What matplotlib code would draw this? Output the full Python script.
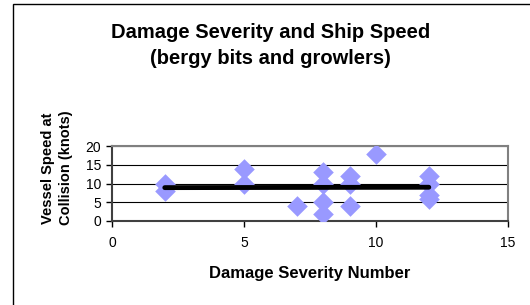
import matplotlib
matplotlib.use("Agg")
import matplotlib.pyplot as plt
from matplotlib.patches import Rectangle

plt.rcParams['font.family'] = ['Liberation Sans', 'DejaVu Sans']

# data
severity = [2, 2, 5, 5, 7, 8, 8, 8, 8, 9, 9, 9, 10, 12, 12, 12, 12]
speed = [10, 8, 14, 10, 4, 13, 10, 5, 2, 12, 10, 4, 18, 12, 10, 7, 6]
trend_x = [2, 12]
trend_y = [8.9, 9.0]
x_ticks = [0, 5, 10, 15]
y_ticks = [0, 5, 10, 15, 20]

fig = plt.figure(figsize=(5.30, 3.05), dpi=100)

# outer chart border
fig.patches.append(Rectangle((13 / 530, -0.01), 1.0, 1 - 4 / 305 + 0.01,
                             transform=fig.transFigure, fill=False,
                             edgecolor='black', linewidth=1.0))

ax = fig.add_axes([112 / 530, 1 - 221 / 305, 396 / 530, 75 / 305])

ax.scatter(severity, speed, marker='D', s=110, color='#9999ff', zorder=3, linewidths=0)
ax.plot(trend_x, trend_y, color='black', linewidth=3.5, zorder=4, solid_capstyle='round')

ax.set_xlim(0, 15)
ax.set_ylim(0, 20)
ax.set_xticks(x_ticks)
ax.set_yticks(y_ticks)
ax.yaxis.grid(True, color='black', linewidth=0.8)
ax.set_axisbelow(True)

for side in ['top', 'right']:
    ax.spines[side].set_color('#808080')
    ax.spines[side].set_linewidth(1.5)
for side in ['left', 'bottom']:
    ax.spines[side].set_color('#404040')
    ax.spines[side].set_linewidth(1.5)

ax.tick_params(direction='out', length=4, width=1, labelsize=10, pad=4)
ax.tick_params(axis='x', pad=7)

ax.set_xlabel('Damage Severity Number', fontsize=12, fontweight='bold', labelpad=11)
ax.set_ylabel('Vessel Speed at\nCollision (knots)', fontsize=10.5, fontweight='bold',
              va='center', linespacing=1.4)
# label sits higher than the plot centre in the original
ax.yaxis.set_label_coords((57 - 112) / 396, (221 - 168) / 75)

fig.text(0.51, 1 - 32 / 305, 'Damage Severity and Ship Speed',
         ha='center', va='center', fontsize=14.5, fontweight='bold')
fig.text(0.51, 1 - 59 / 305, '(bergy bits and growlers)',
         ha='center', va='center', fontsize=14.5, fontweight='bold')

fig.savefig('out.png', dpi=100)
